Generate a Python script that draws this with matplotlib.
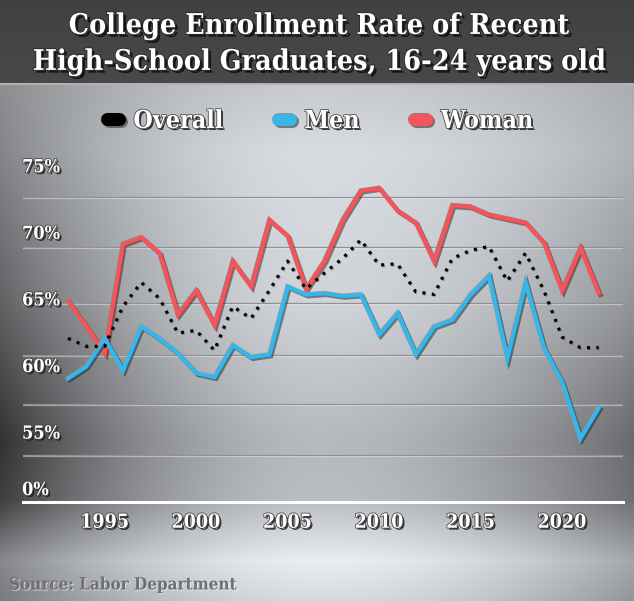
import numpy as np
import matplotlib
matplotlib.use("Agg")
import matplotlib.pyplot as plt
import matplotlib.patheffects as pe
from matplotlib import font_manager as fm
from matplotlib.lines import Line2D
from matplotlib.font_manager import FontProperties

# ---------------- data ----------------
years = list(range(1993, 2023))
overall = [62.0, 61.4, 61.4, 64.4, 66.2, 65.0, 62.4, 62.6, 61.1, 64.4, 63.5, 65.6, 67.8, 65.7, 66.9,
           68.0, 69.4, 67.5, 67.6, 65.5, 65.3, 68.0, 68.6, 68.9, 66.3, 68.4, 65.6, 62.1, 61.3, 61.3]
men = [59.0, 59.9, 62.0, 59.6, 62.9, 62.0, 60.9, 59.4, 59.1, 61.5, 60.6, 60.8, 65.9, 65.3, 65.4,
       65.2, 65.3, 62.3, 63.9, 60.8, 62.9, 63.4, 65.3, 66.7, 60.5, 66.2, 61.3, 58.7, 54.5, 56.8]
women = [64.8, 62.9, 60.9, 69.1, 69.6, 68.4, 63.8, 65.6, 63.0, 67.8, 65.9, 70.9, 69.7, 65.7, 67.8,
         70.9, 73.1, 73.3, 71.6, 70.7, 67.8, 72.0, 71.9, 71.3, 71.0, 70.7, 69.2, 65.6, 68.8, 65.4]
series_names = ["Overall", "Men", "Woman"]
ytick_vals = [75, 70, 65, 60, 55]
ytick_labels = ["75%", "70%", "65%", "60%", "55%"]
zero_label = "0%"
xtick_vals = [1995, 2000, 2005, 2010, 2015, 2020]
xtick_labels = ["1995", "2000", "2005", "2010", "2015", "2020"]
title_lines = ["College Enrollment Rate of Recent", "High-School Graduates, 16-24 years old"]
source_text = "Source: Labor Department"

# ---------------- style / layout ----------------
W, H = 634, 601
RED = "#f0565b"
BLUE = "#3bb5e6"
BLACK = "#000000"

# pixel -> value mapping of the (broken) value axis
PX_PER_UNIT = 13.32
Y_REF_PX, Y_REF_VAL = 298.4, 65.0
def val_at(ypx):
    return Y_REF_VAL - (ypx - Y_REF_PX) / PX_PER_UNIT

AX_LEFT, AX_RIGHT, AX_TOP, AX_BOTTOM = 23, 623, 140, 502
X0_PX, PX_PER_YEAR = 68.0, 18.3
xlim = (1993 - (X0_PX - AX_LEFT) / PX_PER_YEAR, 1993 + (AX_RIGHT - X0_PX) / PX_PER_YEAR)
ylim = (val_at(AX_BOTTOM), val_at(AX_TOP))
zero_pos = val_at(488)
grid_levels = [val_at(p) for p in (197, 247, 303, 355, 404, 455)]

# font choice: condensed bold slab serif if available
FAM, STRETCH = "DejaVu Serif", "normal"
for f in fm.fontManager.ttflist:
    w = f.weight
    isbold = (isinstance(w, (int, float)) and w >= 600) or str(w).lower() in ("bold", "700", "heavy", "black")
    if f.name == "DejaVu Serif" and str(f.stretch) in ("condensed", "semi-condensed") and isbold:
        STRETCH = "condensed"
        break

def fprops(size):
    return FontProperties(family=FAM, weight="bold", stretch=STRETCH, size=size)

fig = plt.figure(figsize=(W / 100, H / 100), dpi=100)
renderer = fig.canvas.get_renderer()

def text_width(s, size):
    t = fig.text(0, 0, s, fontproperties=fprops(size))
    wpx = t.get_window_extent(renderer=renderer).width
    t.remove()
    return wpx

def fit_size(s, target_px):
    return 20 * target_px / text_width(s, 20)

# ---------------- background ----------------
yy, xx = np.mgrid[0:H, 0:W].astype(float)
yc = [85, 150, 300, 440, 500, 560, 601]
cc = [0.80, 0.87, 0.84, 0.73, 0.75, 0.94, 0.86]
kl = [0.24, 0.34, 0.45, 0.53, 0.50, 0.40, 0.38]
kr = [0.12, 0.17, 0.26, 0.32, 0.32, 0.29, 0.28]
c = np.interp(yy, yc, cc)
kL = np.interp(yy, yc, kl)
kR = np.interp(yy, yc, kr)
dx = (xx - 320) / 320
k = np.where(dx < 0, kL, kR)
b = c - k * np.abs(dx) ** 1.8
img = np.stack([b * 0.975, b * 0.99, b * 1.012], -1)
ban = 0.255 + 0.03 * (yy[:83] / 83)
img[:83] = np.stack([ban, ban, ban], -1)
img[83:85] = 0.70
img = img.clip(0, 1)
bg = fig.add_axes([0, 0, 1, 1], zorder=-10)
bg.imshow(img, aspect="auto", extent=[0, 1, 0, 1], origin="upper", interpolation="bilinear")
bg.set_axis_off()

# ---------------- main axes ----------------
ax = fig.add_axes([AX_LEFT / W, 1 - AX_BOTTOM / H, (AX_RIGHT - AX_LEFT) / W, (AX_BOTTOM - AX_TOP) / H])
ax.set_facecolor("none")
ax.set_xlim(*xlim)
ax.set_ylim(*ylim)
for s in ("top", "right", "left"):
    ax.spines[s].set_visible(False)
ax.spines["bottom"].set_color("white")
ax.spines["bottom"].set_linewidth(2.2)

for g in grid_levels:
    ax.axhline(g, color="#8f9193", lw=0.9, zorder=1,
               path_effects=[pe.SimpleLineShadow(offset=(0, -0.9), shadow_color="white", alpha=0.45), pe.Normal()])

line_fx = [pe.SimpleLineShadow(offset=(1.3, -1.3), shadow_color="#2a2a2a", alpha=0.55), pe.Normal()]
ax.plot(years, women, color=RED, lw=3.2, solid_joinstyle="miter", zorder=3, path_effects=line_fx)
ax.plot(years, men, color=BLUE, lw=3.2, solid_joinstyle="miter", zorder=4, path_effects=line_fx)
ax.plot(years, overall, color=BLACK, lw=2.3, linestyle=(0, (0.95, 2.0)), dash_capstyle="butt", zorder=5,
        path_effects=[pe.SimpleLineShadow(offset=(0.7, -0.7), shadow_color="#606060", alpha=0.45), pe.Normal()])

txt_fx = [pe.SimplePatchShadow(offset=(1.4, -1.4), shadow_rgbFace="#1c1c1c", alpha=0.85),
          pe.withStroke(linewidth=1.1, foreground="#404040")]

# ticks
ysize = fit_size("75%", 38)
xsize = fit_size("1995", 49)
ax.set_yticks(ytick_vals + [zero_pos], labels=ytick_labels + [zero_label])
ax.set_xticks(xtick_vals, labels=xtick_labels)
ax.tick_params(axis="y", length=0, pad=0.7, labelcolor="white")
ax.tick_params(axis="x", length=0, pad=7.0, labelcolor="white")
for lab in ax.get_yticklabels():
    lab.set_fontproperties(fprops(ysize))
    lab.set_horizontalalignment("left")
    lab.set_path_effects(txt_fx)
for lab in ax.get_xticklabels():
    lab.set_fontproperties(fprops(xsize))
    lab.set_path_effects(txt_fx)

# ---------------- title ----------------
t1 = fit_size(title_lines[0], 469 * 1.07)
t2 = fit_size(title_lines[1], 535 * 1.07)
tsize = min(t1, t2)
cap = 0.73 * tsize * 100 / 72
title_fx = [pe.SimplePatchShadow(offset=(2.0, -2.0), shadow_rgbFace="#111111", alpha=0.9),
            pe.withStroke(linewidth=1.3, foreground="#2a2a2a")]
for i, (line, cy) in enumerate(zip(title_lines, (23.5, 59.5))):
    fig.text(319 / W, 1 - (cy + cap / 2) / H, line, fontproperties=fprops(tsize), color="white",
             ha="center", va="baseline", path_effects=title_fx)

# ---------------- legend ----------------
lsize = fit_size("Overall", 90)
lpx = lsize * 100 / 72
handles = [
    Line2D([], [], color=BLACK, lw=9.4, solid_capstyle="round", path_effects=line_fx),
    Line2D([], [], color=BLUE, lw=9.4, solid_capstyle="round", path_effects=line_fx),
    Line2D([], [], color=RED, lw=9.4, solid_capstyle="round", path_effects=line_fx),
]
leg = fig.legend(handles, series_names, loc="center", bbox_to_anchor=(320 / W, 1 - 121 / H), ncol=3,
                 frameon=False, prop=fprops(lsize), handlelength=12 / lpx, handletextpad=14.5 / lpx,
                 columnspacing=55 / lpx, borderpad=0, borderaxespad=0)
for t in leg.get_texts():
    t.set_color("white")
    t.set_path_effects(txt_fx)

# ---------------- source ----------------
ssize = fit_size(source_text, 227)
fig.text(9 / W, 1 - 585 / H, source_text, fontproperties=fprops(ssize), color="#6e7072",
         ha="left", va="center",
         path_effects=[pe.SimplePatchShadow(offset=(0.8, -0.8), shadow_rgbFace="#f2f2f2", alpha=0.6), pe.Normal()])

fig.savefig("out.png", dpi=100)
